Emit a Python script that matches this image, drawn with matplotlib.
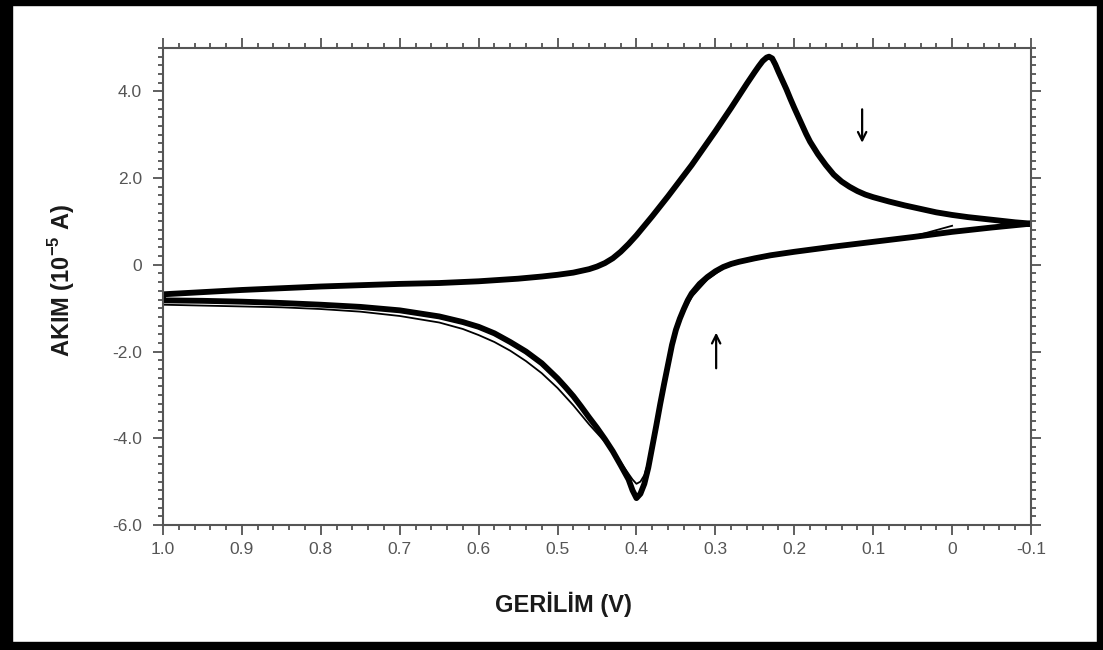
import numpy as np
import matplotlib.pyplot as plt
from matplotlib.patches import Rectangle
from matplotlib.ticker import MultipleLocator

plt.rcParams['font.family'] = ['Liberation Sans', 'DejaVu Sans']
plt.rcParams['mathtext.fontset'] = 'custom'
plt.rcParams['mathtext.rm'] = 'Liberation Sans'
plt.rcParams['mathtext.bf'] = 'Liberation Sans:bold'

# kararli donguler - alt kol (-0.1 V -> 1.0 V)
alt_v = [-0.10, -0.05, 0.00, 0.05, 0.10, 0.15, 0.20, 0.23, 0.25, 0.26, 0.27, 0.28,
         0.29, 0.30, 0.31, 0.32, 0.33, 0.335, 0.34, 0.345, 0.35, 0.355, 0.36, 0.365,
         0.37, 0.375, 0.38, 0.385, 0.39, 0.395, 0.40, 0.405, 0.41, 0.42, 0.43, 0.44,
         0.45, 0.46, 0.47, 0.48, 0.49, 0.50, 0.52, 0.54, 0.56, 0.58, 0.60, 0.62,
         0.65, 0.70, 0.75, 0.80, 0.85, 0.90, 0.95, 1.00]
alt_i = [0.95, 0.86, 0.76, 0.64, 0.53, 0.42, 0.30, 0.22, 0.15, 0.11, 0.07, 0.02,
         -0.05, -0.15, -0.28, -0.44, -0.66, -0.82, -1.02, -1.24, -1.50, -1.85, -2.30, -2.75,
         -3.22, -3.72, -4.20, -4.68, -5.05, -5.28, -5.38, -5.20, -4.95, -4.62, -4.30, -4.02,
         -3.76, -3.52, -3.27, -3.03, -2.82, -2.62, -2.27, -2.00, -1.78, -1.58, -1.43, -1.32,
         -1.19, -1.05, -0.97, -0.92, -0.88, -0.85, -0.83, -0.82]

# ust kol (1.0 V -> -0.1 V)
ust_v = [1.00, 0.95, 0.90, 0.85, 0.80, 0.75, 0.70, 0.65, 0.60, 0.55, 0.52, 0.50,
         0.48, 0.46, 0.45, 0.44, 0.43, 0.42, 0.41, 0.40, 0.39, 0.38, 0.37, 0.36,
         0.35, 0.34, 0.33, 0.32, 0.31, 0.30, 0.29, 0.28, 0.27, 0.26, 0.25, 0.245,
         0.24, 0.235, 0.232, 0.228, 0.224, 0.22, 0.215, 0.21, 0.205, 0.20, 0.195, 0.19,
         0.185, 0.18, 0.17, 0.16, 0.15, 0.14, 0.13, 0.12, 0.11, 0.10, 0.08, 0.06,
         0.04, 0.02, 0.00, -0.02, -0.04, -0.06, -0.08, -0.10]
ust_i = [-0.68, -0.63, -0.58, -0.54, -0.50, -0.47, -0.44, -0.42, -0.38, -0.32, -0.27, -0.23,
         -0.18, -0.10, -0.04, 0.04, 0.15, 0.30, 0.48, 0.68, 0.90, 1.12, 1.35, 1.58,
         1.82, 2.06, 2.30, 2.56, 2.82, 3.08, 3.35, 3.62, 3.90, 4.18, 4.45, 4.58,
         4.70, 4.78, 4.80, 4.76, 4.62, 4.45, 4.25, 4.05, 3.83, 3.62, 3.42, 3.22,
         3.02, 2.84, 2.55, 2.30, 2.08, 1.92, 1.80, 1.70, 1.62, 1.56, 1.46, 1.37,
         1.29, 1.21, 1.15, 1.10, 1.06, 1.02, 0.98, 0.95]

# ilk tarama (ince cizgi)
ilk_v = [0.00, 0.02, 0.04, 0.05, 0.10, 0.20, 0.27, 0.29, 0.31, 0.33, 0.34, 0.35,
         0.36, 0.37, 0.38, 0.385, 0.39, 0.395, 0.40, 0.405, 0.41, 0.42, 0.43, 0.44,
         0.45, 0.46, 0.47, 0.48, 0.50, 0.52, 0.54, 0.56, 0.58, 0.60, 0.62, 0.65,
         0.70, 0.75, 0.80, 0.85, 0.90, 0.95, 1.00]
ilk_i = [0.90, 0.80, 0.70, 0.66, 0.53, 0.30, 0.05, -0.08, -0.34, -0.74, -1.08, -1.55,
         -2.35, -3.25, -4.15, -4.55, -4.85, -5.00, -5.05, -4.95, -4.82, -4.55, -4.30, -4.08,
         -3.88, -3.68, -3.46, -3.24, -2.84, -2.50, -2.22, -1.98, -1.78, -1.62, -1.48, -1.33,
         -1.18, -1.08, -1.02, -0.98, -0.96, -0.94, -0.92]

x_ticks = [1.0, 0.9, 0.8, 0.7, 0.6, 0.5, 0.4, 0.3, 0.2, 0.1, 0.0, -0.1]
x_labels = ['1.0', '0.9', '0.8', '0.7', '0.6', '0.5', '0.4', '0.3', '0.2', '0.1', '0', '-0.1']
y_ticks = [-6, -4, -2, 0, 2, 4]
y_labels = ['-6.0', '-4.0', '-2.0', '0', '2.0', '4.0']

W, H = 1103, 650
fig = plt.figure(figsize=(W / 100, H / 100), dpi=100)
ax = fig.add_axes([163 / W, 1 - 525 / H, 868 / W, 477 / H])

dongu_v = alt_v + ust_v
dongu_i = alt_i + ust_i
ax.plot(dongu_v, dongu_i, color='black', lw=4.2, solid_joinstyle='round')
ax.plot(ilk_v, ilk_i, color='black', lw=1.3)

ok = '->,head_length=0.6,head_width=0.3'
ax.annotate('', xy=(0.114, 2.75), xytext=(0.114, 3.65),
            arrowprops=dict(arrowstyle=ok, lw=1.6, color='black'))
ax.annotate('', xy=(0.299, -1.5), xytext=(0.299, -2.45),
            arrowprops=dict(arrowstyle=ok, lw=1.6, color='black'))

ax.set_xlim(1.0, -0.1)
ax.set_ylim(-6, 5)
ax.set_xticks(x_ticks)
ax.set_xticklabels(x_labels)
ax.set_yticks(y_ticks)
ax.set_yticklabels(y_labels)
ax.xaxis.set_minor_locator(MultipleLocator(0.02))
ax.yaxis.set_minor_locator(MultipleLocator(0.2))
ax.tick_params(which='both', direction='out', top=True, right=True,
               labeltop=False, labelright=False, color='#444444', width=1.2)
ax.tick_params(which='major', length=7, labelsize=12.5, labelcolor='#555555')
ax.tick_params(axis='x', which='major', pad=5)
ax.tick_params(axis='y', which='major', pad=8)
ax.tick_params(which='minor', length=3.5)
for s in ax.spines.values():
    s.set_color('#555555')
    s.set_linewidth(1.5)

fig.text(563 / W, 1 - 604 / H, 'GERİLİM (V)', ha='center', va='center',
         fontsize=17, fontweight='bold', color='#1a1a1a')
fig.text(62 / W, 1 - 280 / H, r'AKIM (10$^{\mathbf{-5}}$ A)', ha='center', va='center',
         rotation=90, fontsize=17, fontweight='bold', color='#1a1a1a')

# siyah cerceve
for x0, y0, w, h in [(0, 0, 12, H), (W - 6, 0, 6, H), (0, 0, W, 8), (0, H - 5, W, 5)]:
    fig.add_artist(Rectangle((x0 / W, y0 / H), w / W, h / H, transform=fig.transFigure,
                             color='black', zorder=10))

fig.savefig('out.png', dpi=100)
